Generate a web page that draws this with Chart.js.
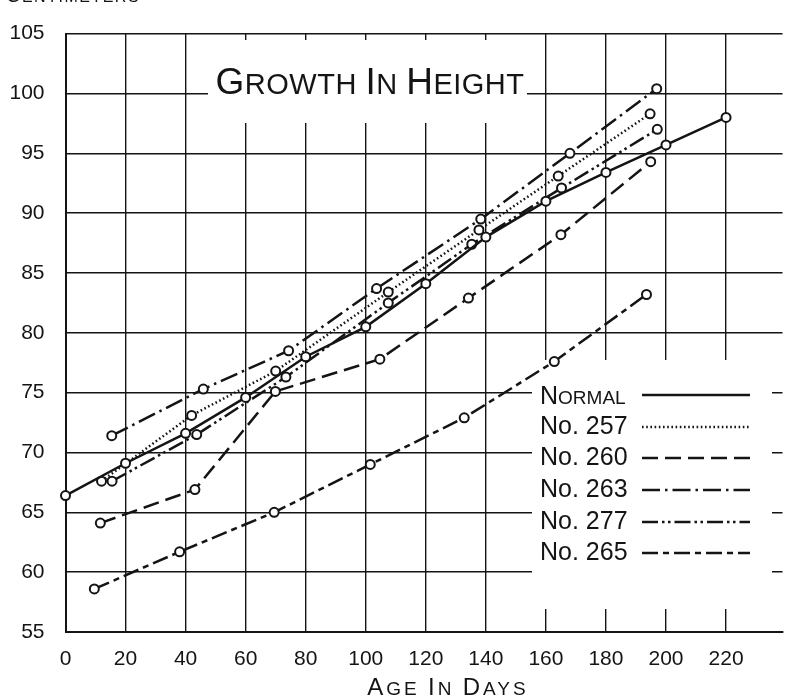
<!DOCTYPE html>
<html>
<head>
<meta charset="utf-8">
<script src="https://cdn.jsdelivr.net/npm/chart.js@4.4.1/dist/chart.umd.min.js"></script>
<style>
  html, body { margin: 0; padding: 0; background: #fff; }
  #wrap { width: 789px; height: 699px; position: relative; }
  canvas { display: block; }
</style>
</head>
<body>
<div id="wrap"><canvas id="chart" width="789" height="699"></canvas></div>
<script>
// Axis ticks
const xTicks = [0, 20, 40, 60, 80, 100, 120, 140, 160, 180, 200, 220];
const yTicks = [55, 60, 65, 70, 75, 80, 85, 90, 95, 100, 105];

// Series names as lettered in the key
const seriesNames = ['Normal', 'No. 257', 'No. 260', 'No. 263', 'No. 277', 'No. 265'];

// Age in days / height in centimetres for each animal
const normalDays   = [0, 20, 40, 60, 80, 100, 120, 140, 160, 180, 200, 220];
const normalHeight = [66.4, 69.1, 71.6, 74.6, 78.0, 80.5, 84.1, 88.0, 91.0, 93.4, 95.7, 98.0];

const no257Days   = [12, 42, 70, 107.5, 137.7, 164.1, 194.7];
const no257Height = [67.6, 73.1, 76.8, 83.4, 88.6, 93.1, 98.3];

const no260Days   = [11.6, 43.1, 69.9, 104.7, 134.2, 165, 194.9];
const no260Height = [64.1, 66.9, 75.1, 77.8, 82.9, 88.2, 94.3];

const no263Days   = [15.4, 45.9, 74.3, 103.6, 138.3, 168, 196.9];
const no263Height = [71.4, 75.3, 78.5, 83.7, 89.5, 95.0, 100.4];

const no277Days   = [15.5, 43.7, 73.4, 107.5, 135.3, 165.2, 197.1];
const no277Height = [67.6, 71.5, 76.3, 82.5, 87.4, 92.1, 97.0];

const no265Days   = [9.6, 38, 69.5, 101.5, 132.8, 162.8, 193.5];
const no265Height = [58.6, 61.7, 65.0, 69.0, 72.9, 77.6, 83.2];

const INK = '#141414';
const FONT = '"Liberation Sans", Arial, sans-serif';

function pairs(xs, ys) { return xs.map((x, i) => ({ x: x, y: ys[i] })); }

function series(label, xs, ys, dash) {
  return {
    label: label,
    data: pairs(xs, ys),
    borderColor: INK,
    borderWidth: 2.5,
    borderDash: dash,
    borderCapStyle: 'butt',
    tension: 0,
    pointRadius: 4.5,
    pointBorderWidth: 2,
    pointBorderColor: INK,
    pointBackgroundColor: '#fff',
    clip: false
  };
}

// Draws words in small capitals: first letter tall, the rest smaller.
function smallCapsParts(text) {
  const parts = [];
  text.split(' ').forEach((w, i) => {
    if (i > 0) parts.push({ t: ' ', big: false });
    parts.push({ t: w[0].toUpperCase(), big: true });
    if (w.length > 1) parts.push({ t: w.slice(1).toUpperCase(), big: false });
  });
  return parts;
}
function drawSmallCaps(ctx, text, x, y, bigSize, smallSize, align, spacing) {
  const parts = smallCapsParts(text);
  ctx.save();
  ctx.letterSpacing = (spacing || 0) + 'px';
  ctx.textBaseline = 'alphabetic';
  ctx.textAlign = 'left';
  let total = 0;
  parts.forEach(p => {
    ctx.font = (p.big ? bigSize : smallSize) + 'px ' + FONT;
    p.w = ctx.measureText(p.t).width;
    total += p.w;
  });
  let cx = align === 'center' ? x - total / 2 : x;
  parts.forEach(p => {
    ctx.font = (p.big ? bigSize : smallSize) + 'px ' + FONT;
    ctx.fillText(p.t, cx, y);
    cx += p.w;
  });
  ctx.restore();
}

// Paper-white panels for the title and the key, then their lettering.
const annotations = {
  id: 'annotations',
  beforeDatasetsDraw(chart) {
    const ctx = chart.ctx;
    ctx.save();
    ctx.fillStyle = '#fff';
    ctx.fillRect(208, 40, 319, 83);
    ctx.fillRect(532, 360, 240, 249);
    ctx.restore();
  },
  afterDraw(chart) {
    const ctx = chart.ctx;
    ctx.save();
    ctx.fillStyle = INK;
    // Title
    drawSmallCaps(ctx, 'Growth In Height', 370, 94, 37, 29, 'center', 0.5);
    // Units of the vertical axis (runs off the top edge)
    drawSmallCaps(ctx, 'Centimeters', 6, 2, 20, 16, 'left', 1.5);
    // Horizontal axis title
    drawSmallCaps(ctx, 'Age In Days', 448, 695, 24, 19, 'center', 3);

    // Key
    const rowY = [395, 427, 458, 490, 522, 553];
    chart.data.datasets.forEach((ds, i) => {
      const y = rowY[i];
      ctx.fillStyle = INK;
      if (i === 0) {
        drawSmallCaps(ctx, 'Normal', 540, y + 9, 25, 19, 'left', 0);
      } else {
        ctx.font = '25px ' + FONT;
        ctx.textBaseline = 'middle';
        ctx.textAlign = 'left';
        ctx.fillText(ds.label, 540, y);
      }
      ctx.beginPath();
      ctx.setLineDash(ds.borderDash || []);
      ctx.lineWidth = ds.borderWidth;
      ctx.strokeStyle = INK;
      ctx.moveTo(642, y);
      ctx.lineTo(750, y);
      ctx.stroke();
      ctx.setLineDash([]);
    });
    ctx.restore();
  }
};

const datasets = [
  series(seriesNames[0], normalDays, normalHeight, []),
  series(seriesNames[1], no257Days, no257Height, [1.6, 2.6]),
  series(seriesNames[2], no260Days, no260Height, [16, 7]),
  series(seriesNames[3], no263Days, no263Height, [18, 5, 2.5, 5]),
  series(seriesNames[4], no277Days, no277Height, [16, 4, 2.5, 3.5, 2.5, 4]),
  series(seriesNames[5], no265Days, no265Height, [16, 5, 6, 5])
];

new Chart(document.getElementById('chart').getContext('2d'), {
  type: 'line',
  data: { datasets: datasets },
  options: {
    responsive: false,
    devicePixelRatio: 1,
    animation: false,
    layout: { padding: { top: 19.5, right: 0, left: 0, bottom: 0 } },
    plugins: { legend: { display: false }, tooltip: { enabled: false } },
    scales: {
      x: {
        type: 'linear',
        min: 0,
        max: 238.8,
        afterBuildTicks(scale) { scale.ticks = xTicks.map(v => ({ value: v })); },
        afterFit(scale) { scale.height = 67; },
        grid: { color: INK, lineWidth: 1.4, drawTicks: false },
        border: { color: INK, width: 2 },
        ticks: { color: INK, font: { family: FONT, size: 21 }, padding: 15, maxRotation: 0 }
      },
      y: {
        type: 'linear',
        min: 55,
        max: 105,
        afterBuildTicks(scale) { scale.ticks = yTicks.map(v => ({ value: v })); },
        afterFit(scale) { scale.width = 65.5; },
        grid: { color: INK, lineWidth: 1.4, drawTicks: false },
        border: { color: INK, width: 2 },
        ticks: { color: INK, font: { family: FONT, size: 21 }, padding: 21 }
      }
    }
  },
  plugins: [annotations]
});
</script>
</body>
</html>
